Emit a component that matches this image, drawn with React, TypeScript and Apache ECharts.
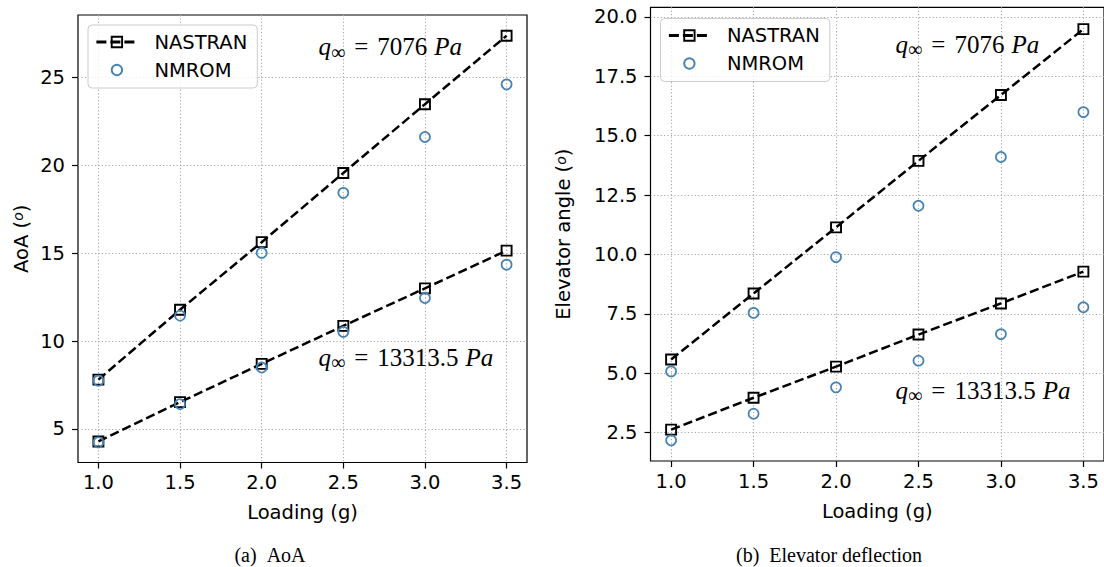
import React, { useEffect, useRef } from "react";
import * as echarts from "echarts";

// ---- data ----
const loading = [1.0, 1.5, 2.0, 2.5, 3.0, 3.5];
const xTicks = [1.0, 1.5, 2.0, 2.5, 3.0, 3.5];
const aoaTicks = [5, 10, 15, 20, 25];
const elevTicks = [2.5, 5.0, 7.5, 10.0, 12.5, 15.0, 17.5, 20.0];

// q = 7076 Pa
const aoaNastranLowQ = [7.8, 11.78, 15.63, 19.57, 23.49, 27.39];
const aoaNmromLowQ = [7.74, 11.45, 15.02, 18.44, 21.62, 24.62];
// q = 13313.5 Pa
const aoaNastranHighQ = [4.28, 6.52, 8.7, 10.86, 13.0, 15.15];
const aoaNmromHighQ = [4.23, 6.41, 8.49, 10.52, 12.45, 14.35];

const elevNastranLowQ = [5.58, 8.36, 11.14, 13.94, 16.71, 19.48];
const elevNmromLowQ = [5.08, 7.54, 9.89, 12.05, 14.1, 15.99];
const elevNastranHighQ = [2.63, 3.97, 5.28, 6.63, 7.94, 9.28];
const elevNmromHighQ = [2.18, 3.3, 4.41, 5.53, 6.65, 7.78];

const SANS = "DejaVu Sans";
const SERIF = "Liberation Serif";
const BLUE = "#4682b4";
const FS = 19.5;
const GRIDLINE = { color: "#a8a8a8", width: 1.1, type: [1.2, 2.2] };

const pts = (ys: number[]) => loading.map((x, i) => [x, ys[i]]);

function makeXAxis(gridIndex: number) {
  return {
    type: "value",
    gridIndex,
    min: 0.875,
    max: 3.625,
    name: "Loading (g)",
    nameLocation: "middle",
    nameGap: 40,
    nameTextStyle: { fontFamily: SANS, fontSize: FS, color: "#000" },
    axisLine: { show: false, onZero: false },
    axisTick: {
      show: true,
      inside: false,
      length: 6,
      customValues: xTicks,
      lineStyle: { color: "#000", width: 1.2 },
    },
    axisLabel: {
      customValues: xTicks,
      formatter: (v: number) => v.toFixed(1),
      margin: 10,
      fontFamily: SANS,
      fontSize: FS,
      color: "#000",
    },
    splitLine: { show: true, lineStyle: GRIDLINE },
  };
}

function makeYAxis(
  gridIndex: number,
  min: number,
  max: number,
  ticks: number[],
  name: string,
  nameGap: number,
  digits: number
) {
  return {
    type: "value",
    gridIndex,
    min,
    max,
    name,
    nameLocation: "middle",
    nameGap,
    nameTextStyle: {
      fontFamily: SANS,
      fontSize: FS,
      color: "#000",
      rich: {
        s: {
          fontFamily: SANS,
          fontStyle: "italic",
          fontSize: 14,
          color: "#000",
          verticalAlign: "top",
        },
      },
    },
    axisLine: { show: false, onZero: false },
    axisTick: {
      show: true,
      inside: false,
      length: 6,
      customValues: ticks,
      lineStyle: { color: "#000", width: 1.2 },
    },
    axisLabel: {
      customValues: ticks,
      formatter: (v: number) => v.toFixed(digits),
      margin: 13,
      fontFamily: SANS,
      fontSize: FS,
      color: "#000",
    },
    splitLine: { show: true, lineStyle: GRIDLINE },
  };
}

function nastran(idx: number, ys: number[]) {
  return {
    name: "NASTRAN",
    type: "line",
    xAxisIndex: idx,
    yAxisIndex: idx,
    data: pts(ys),
    symbol: "rect",
    symbolSize: 10,
    showSymbol: true,
    showAllSymbol: true,
    lineStyle: { color: "#000", width: 2.5, type: [9.25, 4] },
    itemStyle: { color: "transparent", borderColor: "#000", borderWidth: 1.9 },
    emphasis: { disabled: true },
    z: 2,
  };
}

function nmrom(idx: number, ys: number[]) {
  return {
    name: "NMROM",
    type: "line",
    xAxisIndex: idx,
    yAxisIndex: idx,
    data: pts(ys),
    symbol: "circle",
    symbolSize: 10,
    showSymbol: true,
    showAllSymbol: true,
    lineStyle: { color: BLUE, width: 0, opacity: 0 },
    itemStyle: { color: "transparent", borderColor: BLUE, borderWidth: 1.7 },
    emphasis: { disabled: true },
    z: 3,
  };
}

function makeLegend(left: number, top: number) {
  return {
    left,
    top,
    orient: "vertical",
    itemWidth: 41,
    itemHeight: 13,
    itemGap: 8,
    padding: [7, 10, 8, 7],
    backgroundColor: "rgba(255,255,255,0.8)",
    borderColor: "#cccccc",
    borderWidth: 1,
    borderRadius: 4,
    selectedMode: false,
    textStyle: {
      fontFamily: SANS,
      fontSize: FS,
      color: "#000",
      padding: [0, 0, 0, 12],
    },
    itemStyle: { borderWidth: 1.9 },
    lineStyle: { width: 2.8 },
    data: [
      { name: "NASTRAN", lineStyle: { width: 2.8, type: [10, 4], color: "#000" } },
      { name: "NMROM" },
    ],
  };
}

const qRich = {
  q: { fontFamily: SERIF, fontStyle: "italic", fontSize: 25, lineHeight: 30, fill: "#000", color: "#000" },
  i: { fontFamily: SERIF, fontSize: 20, lineHeight: 30, verticalAlign: "bottom", fill: "#000", color: "#000" },
  e: { fontFamily: SERIF, fontSize: 25, lineHeight: 30, padding: [0, 9, 0, 9], fill: "#000", color: "#000" },
  n: { fontFamily: SERIF, fontSize: 25, lineHeight: 30, fill: "#000", color: "#000" },
  p: { fontFamily: SERIF, fontStyle: "italic", fontSize: 25, lineHeight: 30, padding: [0, 0, 0, 7], fill: "#000", color: "#000" },
};

function qText(value: string, x: number, y: number) {
  return {
    type: "text",
    x,
    y,
    z: 10,
    style: {
      text: `{q|q}{i|∞}{e|=}{n|${value}}{p|Pa}`,
      rich: qRich,
      align: "left",
      verticalAlign: "middle",
      textAlign: "left",
      textVerticalAlign: "middle",
      fill: "#000",
    },
  };
}

function caption(text: string, x: number, y: number) {
  return {
    type: "text",
    x,
    y,
    style: {
      text,
      fontFamily: SERIF,
      fontSize: 20,
      fill: "#000",
      align: "center",
      verticalAlign: "middle",
      textAlign: "center",
      textVerticalAlign: "middle",
    },
  };
}

export default function App() {
  const ref = useRef<HTMLDivElement>(null);
  useEffect(() => {
    if (!ref.current) return;
    const chart = echarts.init(ref.current, null, { renderer: "svg" });
    chart.setOption({
      animation: false,
      backgroundColor: "#fff",
      grid: [
        { left: 78, top: 15, width: 449, height: 447.5, show: true, borderColor: "#000", borderWidth: 1.2, backgroundColor: "transparent" },
        { left: 650.5, top: 7.3, width: 456, height: 453.7, show: true, borderColor: "#000", borderWidth: 1.2, backgroundColor: "transparent" },
      ],
      xAxis: [makeXAxis(0), makeXAxis(1)],
      yAxis: [
        makeYAxis(0, 3.08, 28.57, aoaTicks, "AoA ({s|o})", 47, 0),
        makeYAxis(1, 1.31, 20.4, elevTicks, "Elevator angle ({s|o})", 77, 1),
      ],
      legend: [makeLegend(88, 25), makeLegend(660.5, 18.5)],
      series: [
        nastran(0, aoaNastranLowQ),
        nastran(0, aoaNastranHighQ),
        nmrom(0, aoaNmromLowQ),
        nmrom(0, aoaNmromHighQ),
        nastran(1, elevNastranLowQ),
        nastran(1, elevNastranHighQ),
        nmrom(1, elevNmromLowQ),
        nmrom(1, elevNmromHighQ),
      ],
      graphic: [
        qText("7076", 318.5, 46.7),
        qText("13313.5", 318.5, 357.3),
        qText("7076", 895.6, 44.2),
        qText("13313.5", 895.6, 390),
        caption("(a)\u2002AoA", 270, 555),
        caption("(b)\u2002Elevator deflection", 829, 555),
      ],
    });
    return () => chart.dispose();
  }, []);
  return (
    <div
      ref={ref}
      style={{ position: "fixed", left: 0, top: 0, width: 1104, height: 567, background: "#fff" }}
    />
  );
}
